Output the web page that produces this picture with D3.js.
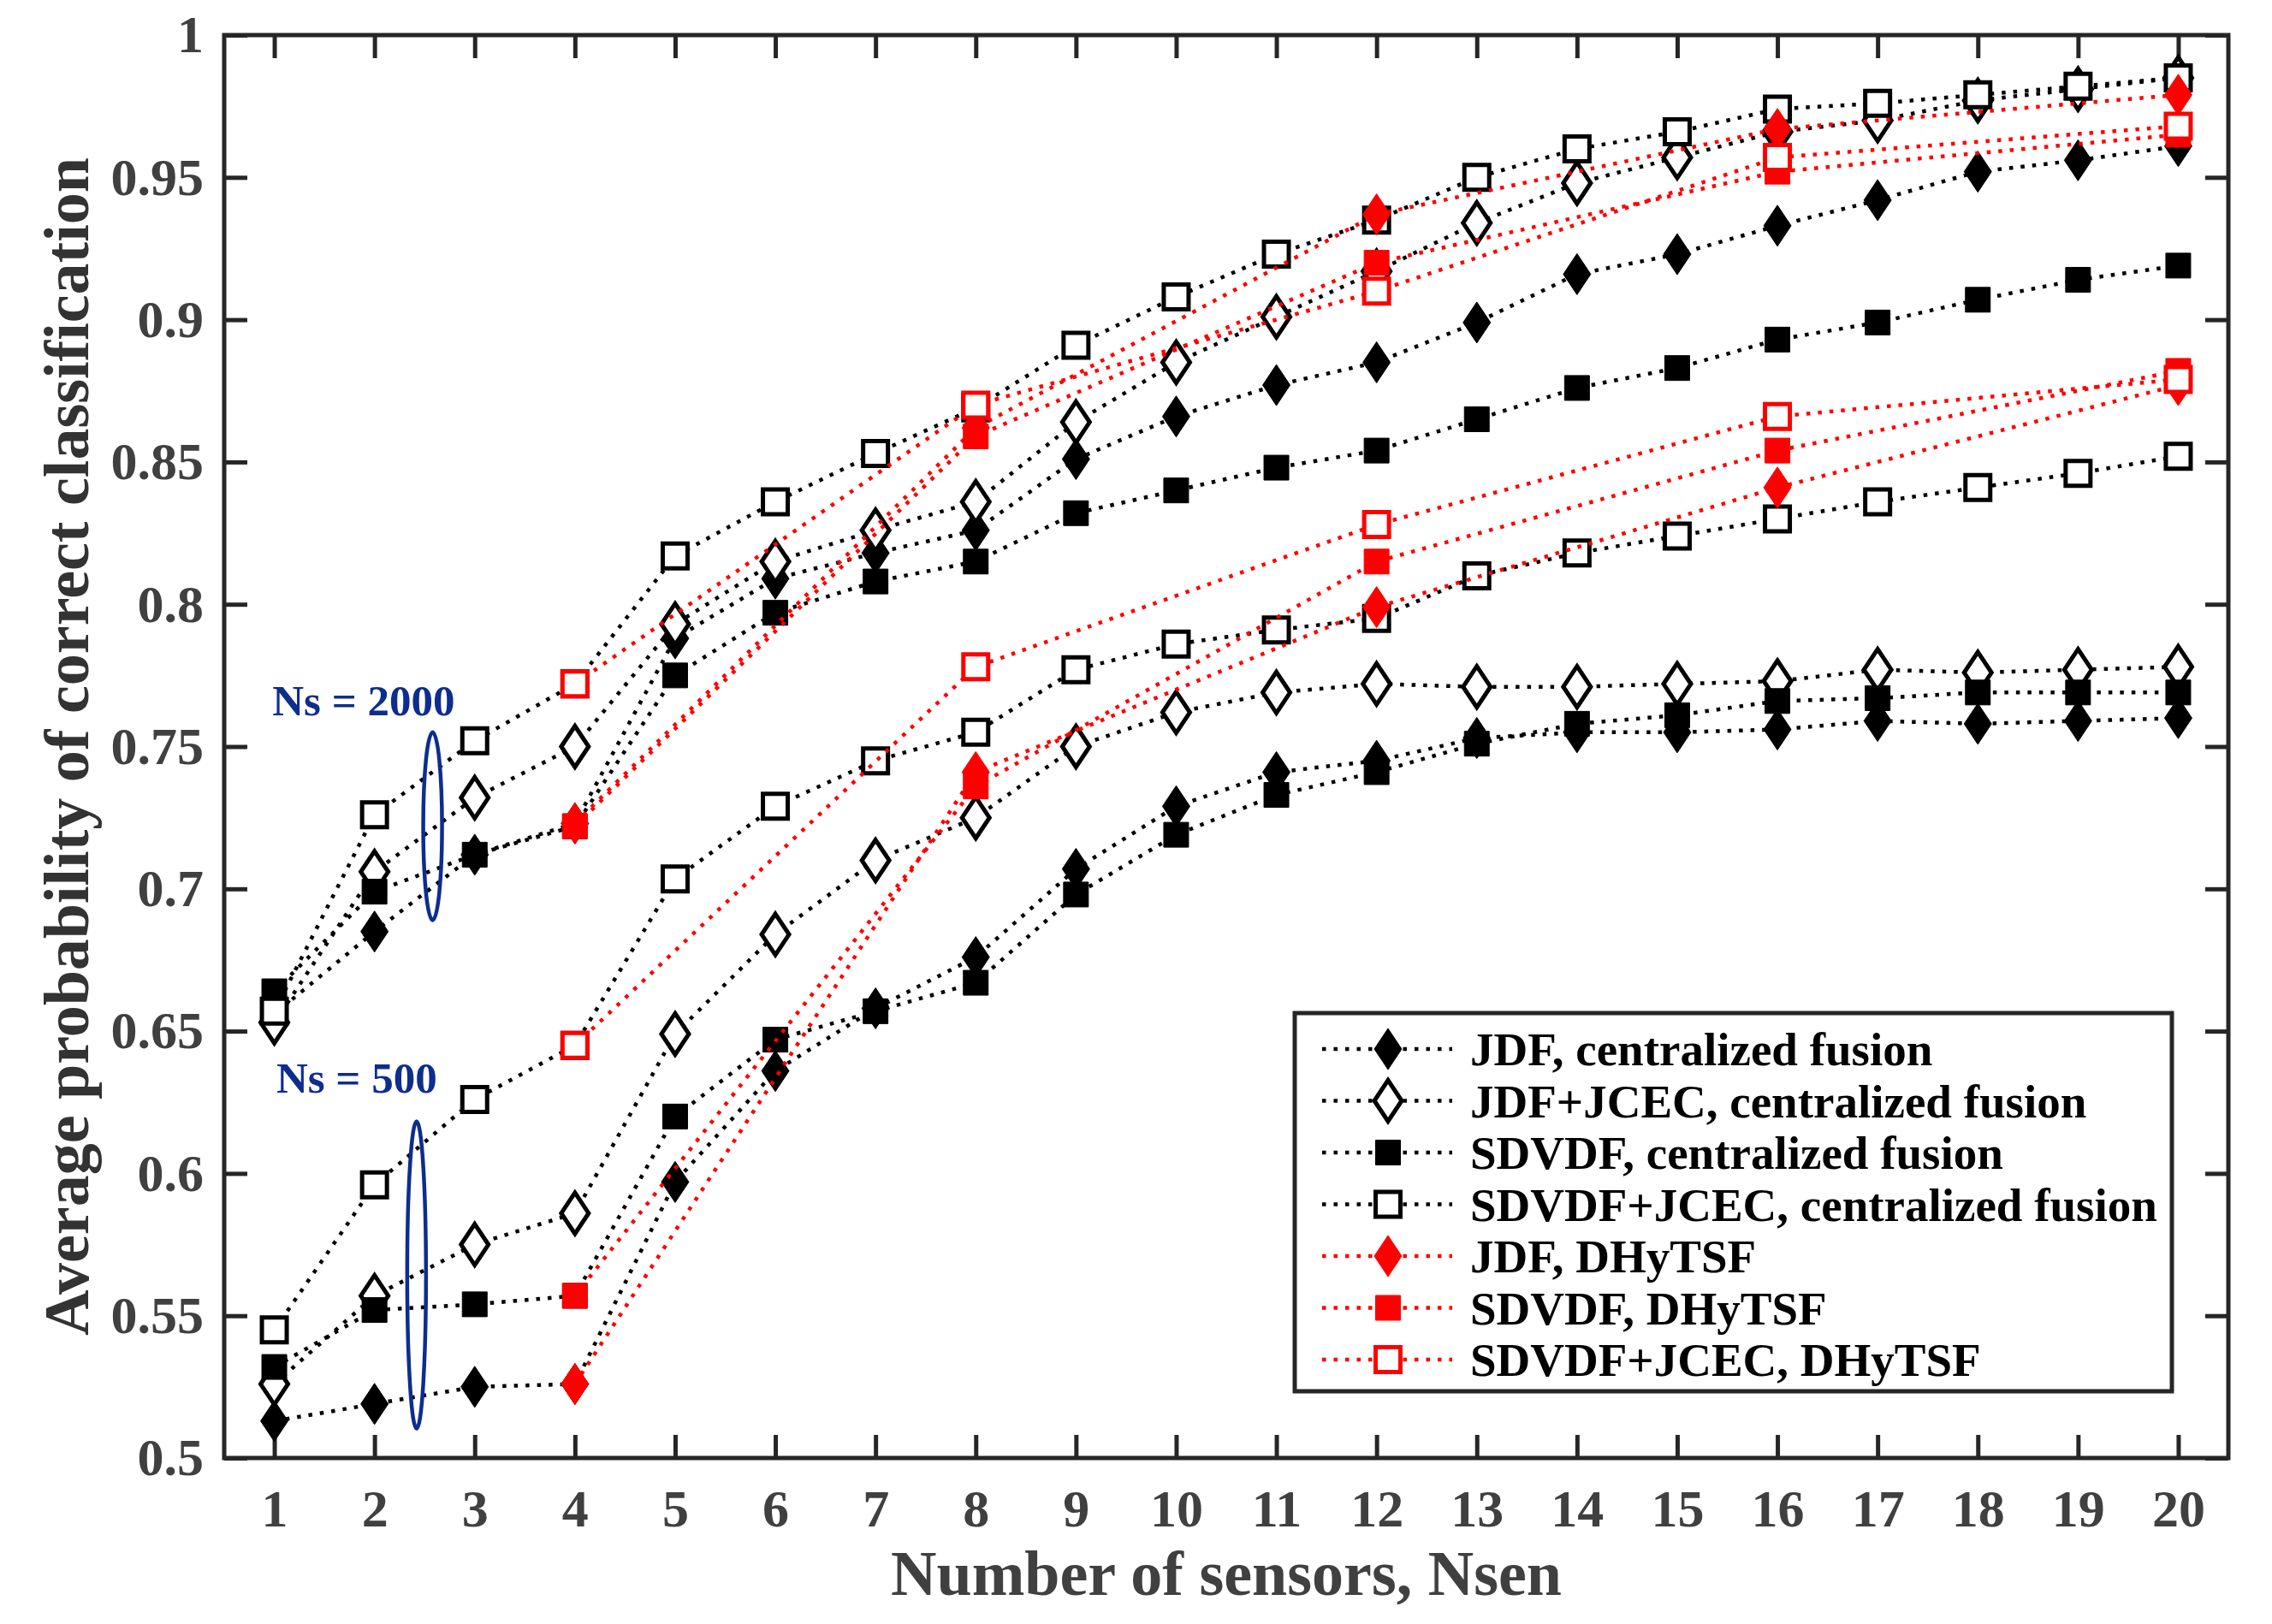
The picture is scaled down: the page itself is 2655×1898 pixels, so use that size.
<!DOCTYPE html>
<html>
<head>
<meta charset="utf-8">
<script src="https://cdn.jsdelivr.net/npm/d3@7/dist/d3.min.js"></script>
<style>
  html, body { margin: 0; padding: 0; background: #ffffff; }
  svg { display: block; }
  text { font-family: "Liberation Serif", "Times New Roman", serif; font-weight: bold; }
</style>
</head>
<body>
<svg id="chart" width="2655" height="1898"></svg>
<script>
// ---------------- DATA ----------------
const sensors = [1,2,3,4,5,6,7,8,9,10,11,12,13,14,15,16,17,18,19,20];
const dhySensors = [4, 8, 12, 16, 20];

// Ns = 2000, centralized fusion
const jdfCent2000       = [0.656,0.685,0.712,0.723,0.788,0.809,0.818,0.826,0.851,0.866,0.877,0.885,0.899,0.916,0.923,0.933,0.942,0.952,0.956,0.961];
const jdfJcecCent2000   = [0.653,0.706,0.732,0.750,0.793,0.815,0.826,0.836,0.864,0.885,0.901,0.917,0.934,0.948,0.957,0.966,0.970,0.977,0.981,0.985];
const sdvdfCent2000     = [0.664,0.699,0.712,0.722,0.775,0.797,0.808,0.815,0.832,0.840,0.848,0.854,0.865,0.876,0.883,0.893,0.899,0.907,0.914,0.919];
const sdvdfJcecCent2000 = [0.657,0.726,0.752,0.772,0.817,0.836,0.853,0.869,0.891,0.908,0.923,0.935,0.950,0.960,0.966,0.974,0.976,0.979,0.982,0.985];
// Ns = 500, centralized fusion
const jdfCent500        = [0.513,0.519,0.525,0.526,0.597,0.636,0.658,0.676,0.707,0.729,0.741,0.745,0.753,0.755,0.755,0.756,0.759,0.758,0.759,0.760];
const jdfJcecCent500    = [0.526,0.557,0.575,0.586,0.649,0.684,0.710,0.725,0.750,0.762,0.769,0.772,0.771,0.771,0.772,0.773,0.777,0.776,0.777,0.778];
const sdvdfCent500      = [0.532,0.552,0.554,0.557,0.620,0.647,0.657,0.667,0.698,0.719,0.733,0.741,0.751,0.758,0.761,0.766,0.767,0.769,0.769,0.769];
const sdvdfJcecCent500  = [0.545,0.596,0.626,0.645,0.7035,0.729,0.745,0.755,0.777,0.786,0.791,0.795,0.810,0.818,0.824,0.830,0.836,0.841,0.846,0.852];
// DHyTSF (sensors 4, 8, 12, 16, 20)
const jdfDhy2000        = [0.723,0.862,0.937,0.967,0.979];
const sdvdfDhy2000      = [0.722,0.859,0.920,0.952,0.965];
const sdvdfJcecDhy2000  = [0.772,0.870,0.910,0.957,0.968];
const jdfDhy500         = [0.526,0.741,0.799,0.841,0.877];
const sdvdfDhy500       = [0.557,0.736,0.815,0.854,0.882];
const sdvdfJcecDhy500   = [0.645,0.778,0.828,0.866,0.879];

const yTicks = [0.5,0.55,0.6,0.65,0.7,0.75,0.8,0.85,0.9,0.95,1];
const yTickLabels = ["0.5","0.55","0.6","0.65","0.7","0.75","0.8","0.85","0.9","0.95","1"];
const xTickLabels = ["1","2","3","4","5","6","7","8","9","10","11","12","13","14","15","16","17","18","19","20"];

const legendLabels = [
  "JDF, centralized fusion",
  "JDF+JCEC, centralized fusion",
  "SDVDF, centralized fusion",
  "SDVDF+JCEC, centralized fusion",
  "JDF, DHyTSF",
  "SDVDF, DHyTSF",
  "SDVDF+JCEC, DHyTSF"
];

const annotLabels = ["Ns = 2000", "Ns = 500"];
const annotTextPos = [[0.98, 0.761], [1.02, 0.6284]];
const annotEllipse = [[2.58, 0.722, 0.033], [2.42, 0.5643, 0.054]];

// ---------------- STYLE / LAYOUT ----------------
const W = 2655, H = 1898;
const plot = {left: 262, right: 2604, top: 41, bottom: 1704};
const axisColor = "#262626";
const labelColor = "#404040";
const annotColor = "#0d2d8f";

const svg = d3.select("#chart");

const x = d3.scaleLinear().domain([0.5, 20.5]).range([plot.left, plot.right]);
const y = d3.scaleLinear().domain([0.5, 1]).range([plot.bottom, plot.top]);

// marker shapes
const shapes = {
  diamond: "M0,-24L16,0L0,24L-16,0Z",
  square: "M-14.5,-14.5L14.5,-14.5L14.5,14.5L-14.5,14.5Z"
};

const styles = [
  {shape: "diamond", color: "#000000", filled: true},
  {shape: "diamond", color: "#000000", filled: false},
  {shape: "square",  color: "#000000", filled: true},
  {shape: "square",  color: "#000000", filled: false},
  {shape: "diamond", color: "#ff0000", filled: true},
  {shape: "square",  color: "#ff0000", filled: true},
  {shape: "square",  color: "#ff0000", filled: false}
];

const seriesList = [
  {xs: sensors, ys: jdfCent2000, s: 0},
  {xs: sensors, ys: jdfJcecCent2000, s: 1},
  {xs: sensors, ys: sdvdfCent2000, s: 2},
  {xs: sensors, ys: sdvdfJcecCent2000, s: 3},
  {xs: sensors, ys: jdfCent500, s: 0},
  {xs: sensors, ys: jdfJcecCent500, s: 1},
  {xs: sensors, ys: sdvdfCent500, s: 2},
  {xs: sensors, ys: sdvdfJcecCent500, s: 3},
  {xs: dhySensors, ys: jdfDhy2000, s: 4},
  {xs: dhySensors, ys: sdvdfDhy2000, s: 5},
  {xs: dhySensors, ys: sdvdfJcecDhy2000, s: 6},
  {xs: dhySensors, ys: jdfDhy500, s: 4},
  {xs: dhySensors, ys: sdvdfDhy500, s: 5},
  {xs: dhySensors, ys: sdvdfJcecDhy500, s: 6}
];

// ---------------- AXES ----------------
const tickLen = 27;
const gAxes = svg.append("g");

const axB = gAxes.append("g").attr("transform", `translate(0,${plot.bottom})`)
  .call(d3.axisBottom(x).tickValues(sensors).tickFormat((d,i) => xTickLabels[i])
        .tickSizeInner(-tickLen).tickSizeOuter(0).tickPadding(36));
const axT = gAxes.append("g").attr("transform", `translate(0,${plot.top})`)
  .call(d3.axisTop(x).tickValues(sensors).tickFormat("").tickSizeInner(-tickLen).tickSizeOuter(0));
const axL = gAxes.append("g").attr("transform", `translate(${plot.left},0)`)
  .call(d3.axisLeft(y).tickValues(yTicks).tickFormat((d,i) => yTickLabels[i])
        .tickSizeInner(-tickLen).tickSizeOuter(0).tickPadding(24));
const axR = gAxes.append("g").attr("transform", `translate(${plot.right},0)`)
  .call(d3.axisRight(y).tickValues(yTicks).tickFormat("").tickSizeInner(-tickLen).tickSizeOuter(0));

[axB, axT, axL, axR].forEach(a => {
  a.select(".domain").remove();
  a.selectAll(".tick line").attr("stroke", axisColor).attr("stroke-width", 5);
  a.selectAll(".tick text").attr("fill", labelColor).style("font-size", "62px")
    .style("font-family", '"Liberation Serif", "Times New Roman", serif').style("font-weight", "bold");
});
svg.append("rect")
  .attr("x", plot.left).attr("y", plot.top)
  .attr("width", plot.right - plot.left).attr("height", plot.bottom - plot.top)
  .attr("fill", "none").attr("stroke", axisColor).attr("stroke-width", 5);

// axis titles
svg.append("text")
  .attr("x", (plot.left + plot.right) / 2).attr("y", 1864)
  .attr("text-anchor", "middle").attr("fill", labelColor)
  .style("font-size", "74px")
  .text("Number of sensors, Nsen");

svg.append("text")
  .attr("transform", `translate(103,${(plot.top + plot.bottom) / 2}) rotate(-90)`)
  .attr("text-anchor", "middle").attr("fill", "#333333")
  .style("font-size", "74px")
  .text("Average probability of correct classification");

// ---------------- SERIES ----------------
const line = d3.line().x(d => x(d[0])).y(d => y(d[1]));
const gSeries = svg.append("g");

seriesList.forEach(ser => {
  const st = styles[ser.s];
  const pts = ser.xs.map((xv, i) => [xv, ser.ys[i]]);
  const g = gSeries.append("g");
  g.append("path")
    .attr("d", line(pts))
    .attr("fill", "none")
    .attr("stroke", st.color)
    .attr("stroke-width", 4.5)
    .attr("stroke-dasharray", "4.5 9");
  g.selectAll("path.m").data(pts).enter().append("path")
    .attr("class", "m")
    .attr("d", shapes[st.shape])
    .attr("transform", d => `translate(${x(d[0])},${y(d[1])})`)
    .attr("fill", st.filled ? st.color : "#ffffff")
    .attr("stroke", st.color)
    .attr("stroke-width", st.filled ? 1 : 5);
});

// ---------------- ANNOTATIONS ----------------
annotLabels.forEach((lab, i) => {
  svg.append("text")
    .attr("x", x(annotTextPos[i][0])).attr("y", y(annotTextPos[i][1]))
    .attr("fill", annotColor).style("font-size", "51px")
    .text(lab);
  const e = annotEllipse[i];
  svg.append("ellipse")
    .attr("cx", x(e[0])).attr("cy", y(e[1]))
    .attr("rx", 11).attr("ry", Math.abs(y(e[1] + e[2]) - y(e[1])))
    .attr("fill", "none").attr("stroke", annotColor).attr("stroke-width", 4.5);
});

// ---------------- LEGEND ----------------
const leg = {left: 1513, top: 1184, width: 1025, height: 442, row0: 1226, rowH: 60.5,
             lineX0: 1545, lineX1: 1697, markX: 1622, textX: 1718};
const gLeg = svg.append("g");
gLeg.append("rect")
  .attr("x", leg.left).attr("y", leg.top).attr("width", leg.width).attr("height", leg.height)
  .attr("fill", "#ffffff").attr("stroke", axisColor).attr("stroke-width", 5);

legendLabels.forEach((lab, i) => {
  const st = styles[i];
  const cy = leg.row0 + i * leg.rowH;
  gLeg.append("line")
    .attr("x1", leg.lineX0).attr("x2", leg.lineX1).attr("y1", cy).attr("y2", cy)
    .attr("stroke", st.color).attr("stroke-width", 4.5).attr("stroke-dasharray", "4.5 9");
  gLeg.append("path")
    .attr("d", shapes[st.shape])
    .attr("transform", `translate(${leg.markX},${cy})`)
    .attr("fill", st.filled ? st.color : "#ffffff")
    .attr("stroke", st.color).attr("stroke-width", st.filled ? 1 : 5);
  gLeg.append("text")
    .attr("x", leg.textX).attr("y", cy).attr("dy", "0.35em")
    .attr("fill", "#000000").style("font-size", "55px")
    .text(lab);
});
</script>
</body>
</html>
